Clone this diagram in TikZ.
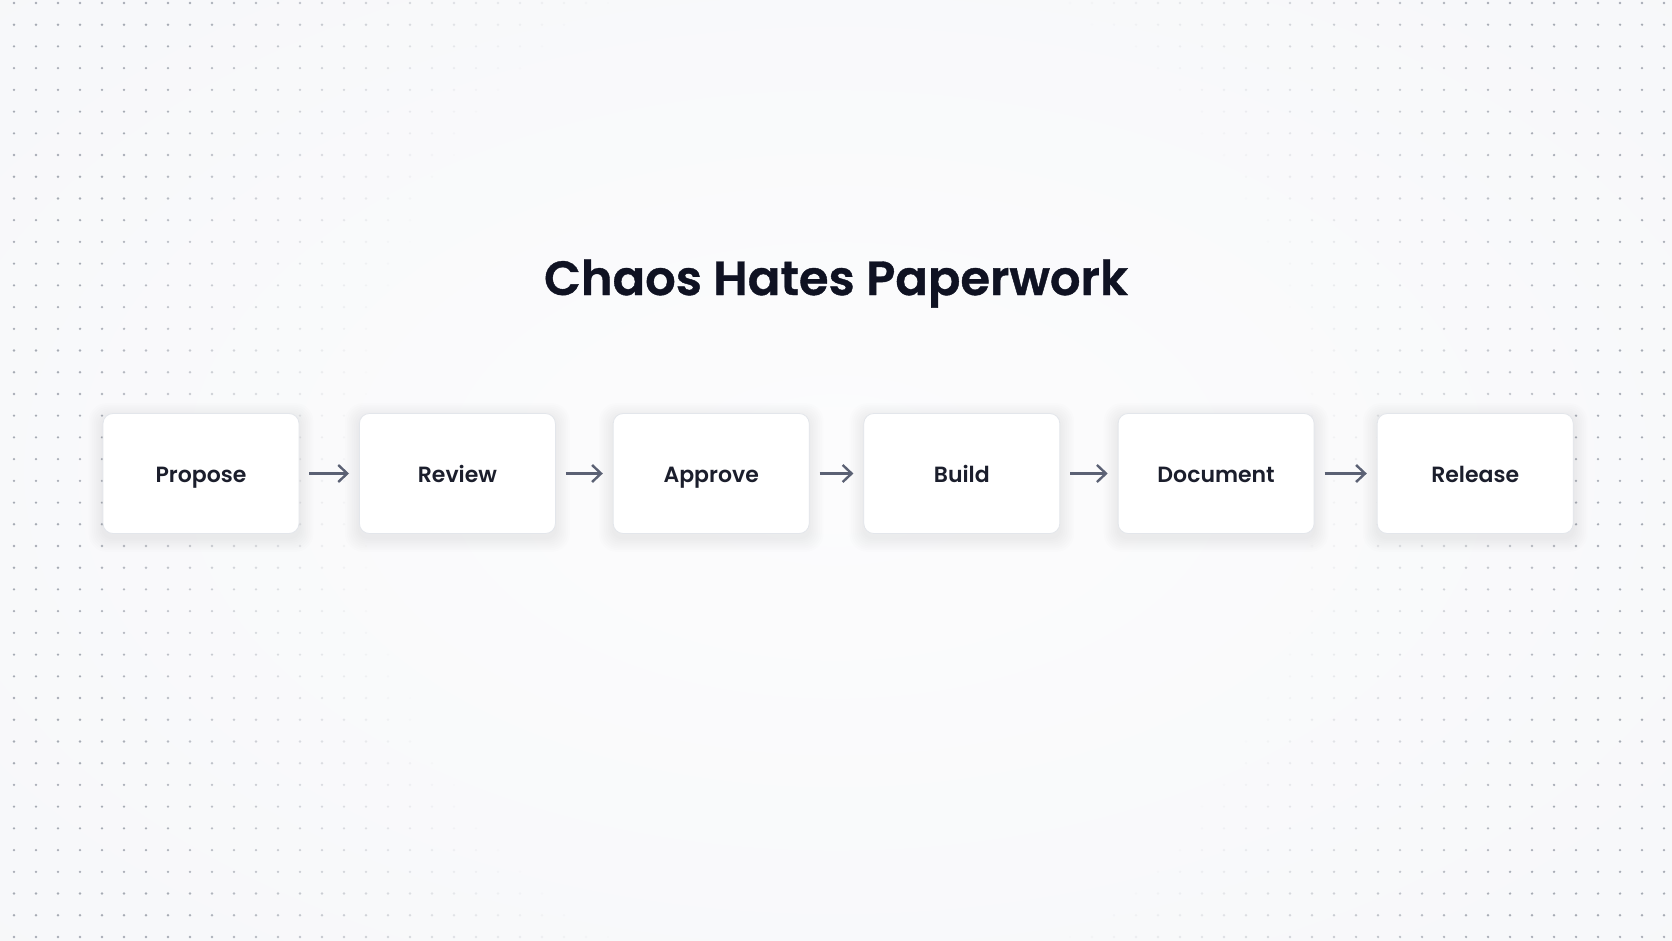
\documentclass[tikz,border=0pt]{standalone}
\usepackage{fontspec}
\setmainfont{Poppins}
\newfontfamily\titlefont[FakeBold=0.8]{Poppins SemiBold}
\newfontfamily\labelfont{Poppins SemiBold}
\usetikzlibrary{arrows.meta}
\definecolor{bgc}{HTML}{F6F7F9}
\definecolor{bgin}{HTML}{FCFCFD}
\definecolor{dotc}{HTML}{9EA3AD}
\definecolor{titlec}{HTML}{0F1222}
\definecolor{labelc}{HTML}{1B1E2C}
\definecolor{borderc}{HTML}{E3E6EB}
\definecolor{arrowc}{HTML}{5B6174}
\tikzset{
  stepbox/.style={draw=borderc, line width=0.8pt, fill=white, rounded corners=10pt,
    minimum width=196pt, minimum height=120pt, inner sep=0pt,
    text height=17pt, text depth=0pt, text=labelc,
    font=\labelfont\fontsize{22}{22}\selectfont},
  flow/.style={draw=arrowc, line width=2.4pt, -{Straight Barb[length=9pt,width=17pt,line width=2.4pt]}, shorten >=10pt, shorten <=10pt},
}
\begin{document}
\begin{tikzpicture}[x=1pt,y=-1pt]
\useasboundingbox (0,0) rectangle (1672,941);
\fill[bgc] (0,0) rectangle (1672,941);
\shade[inner color=bgin, outer color=bgc] (836,470) ellipse (1300 and 760);
% dot grid fading toward the centre
\foreach \i in {0,...,75}{
  \foreach \j in {0,...,43}{
    \pgfmathsetmacro{\px}{14+22*\i}
    \pgfmathsetmacro{\py}{3+21.72*\j}
    \pgfmathsetmacro{\dd}{sqrt(((\px-836)/836)^2+0.25*((\py-470)/470)^2)}
    \pgfmathsetmacro{\op}{min(0.9,max(0,(\dd-0.56)/0.4))}
    \ifdim\op pt>0.01pt
      \fill[dotc, opacity=\op] (\px,\py) circle (1.3);
    \fi
  }
}
% soft shadows under the boxes
\foreach \cx in {201,457.4,711.2,961.8,1216.1,1475.2}{
  \foreach \k in {1,...,8}{
    \fill[black, opacity=0.006, rounded corners=10pt+\k pt]
      (\cx-98-1.8*\k, 473.5-60-1.8*\k+4) rectangle (\cx+98+1.8*\k, 473.5+60+1.8*\k+4);
  }
}
\node[anchor=base, text=titlec, font=\titlefont\fontsize{48}{48}\selectfont] (title) at (836,295) {Chaos Hates Paperwork};
\node[stepbox] (b1) at (201,473.5) {Propose};
\node[stepbox] (b2) at (457.4,473.5) {Review};
\node[stepbox] (b3) at (711.2,473.5) {Approve};
\node[stepbox] (b4) at (961.8,473.5) {Build};
\node[stepbox] (b5) at (1216.1,473.5) {Document};
\node[stepbox] (b6) at (1475.2,473.5) {Release};
\draw[flow] (b1) -- (b2);
\draw[flow] (b2) -- (b3);
\draw[flow] (b3) -- (b4);
\draw[flow] (b4) -- (b5);
\draw[flow] (b5) -- (b6);
\end{tikzpicture}
\end{document}
